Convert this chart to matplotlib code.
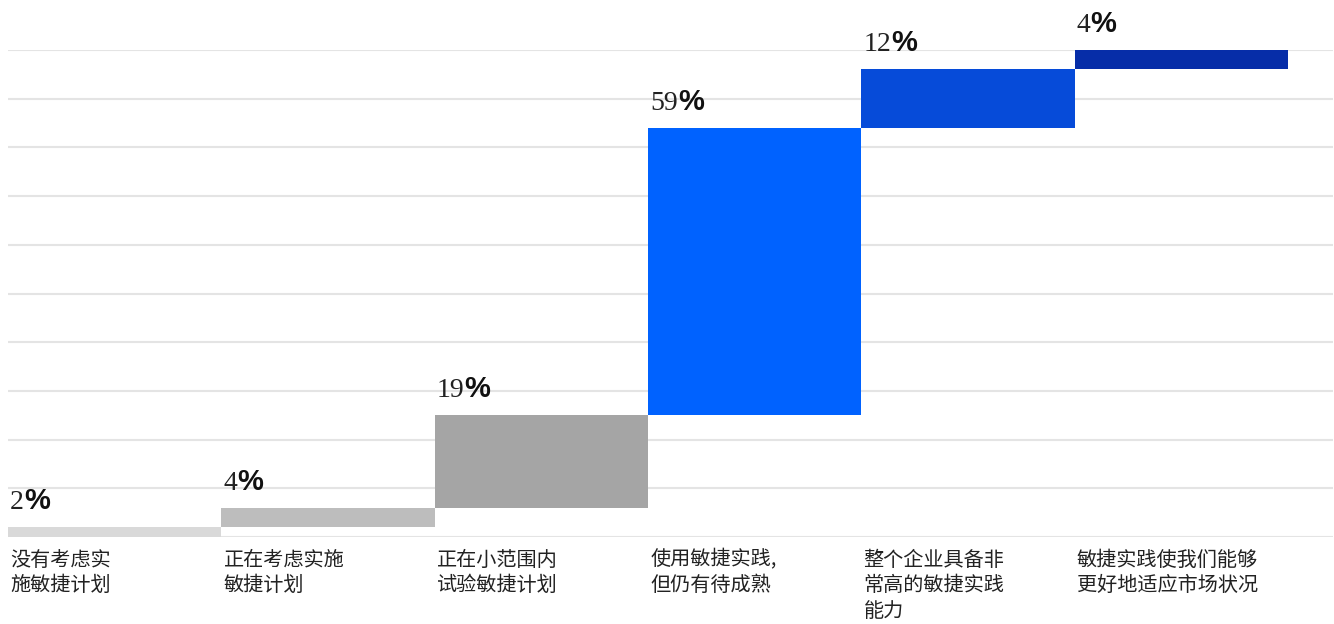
import matplotlib
matplotlib.use("Agg")
import matplotlib.pyplot as plt

categories = [
    "没有考虑实\n施敏捷计划",
    "正在考虑实施\n敏捷计划",
    "正在小范围内\n试验敏捷计划",
    "使用敏捷实践,\n但仍有待成熟",
    "整个企业具备非\n常高的敏捷实践\n能力",
    "敏捷实践使我们能够\n更好地适应市场状况",
]
values = [2, 4, 19, 59, 12, 4]
colors = ["#d9d9d9", "#bdbdbd", "#a5a5a5", "#0062ff", "#064bd9", "#062da8"]

plt.rcParams['font.family'] = ['Noto Sans CJK SC', 'DejaVu Sans']

fig = plt.figure(figsize=(13.34, 6.24), dpi=100)
ax = fig.add_axes([8 / 1334, 87 / 624, 1325 / 1334, 487 / 624])

# waterfall: each bar starts where the previous one ended
bottoms = []
run = 0
for v in values:
    bottoms.append(run)
    run += v

x = list(range(len(values)))
for yy in range(0, 101, 10):
    ax.axhline(yy, color="#e4e4e4", lw=1.5, zorder=0)

ax.bar(x, values, bottom=bottoms, width=1.0, color=colors, zorder=2)

for i, (v, b) in enumerate(zip(values, bottoms)):
    top = b + v
    t = ax.annotate(str(v), xy=(i - 0.49, top), xytext=(0, 13),
                    textcoords="offset points", ha="left", va="baseline",
                    fontsize=20, family="Liberation Serif", color="#222222",
                    annotation_clip=False)
    ax.annotate("%", xy=(1, top), xycoords=(t, "data"), xytext=(0, 13),
                textcoords="offset points", ha="left", va="baseline",
                fontsize=21, family="Liberation Sans", fontweight="bold",
                color="#111111", annotation_clip=False)
    ax.annotate(categories[i], xy=(i - 0.49, 0), xytext=(0, -9),
                textcoords="offset points", ha="left", va="top",
                fontsize=14.5, color="#222222", linespacing=1.3,
                annotation_clip=False)

ax.set_xlim(-0.5, len(values) - 0.5 + 0.21)
ax.set_ylim(0, 100)
ax.axis("off")

fig.savefig("out.png", dpi=100)
